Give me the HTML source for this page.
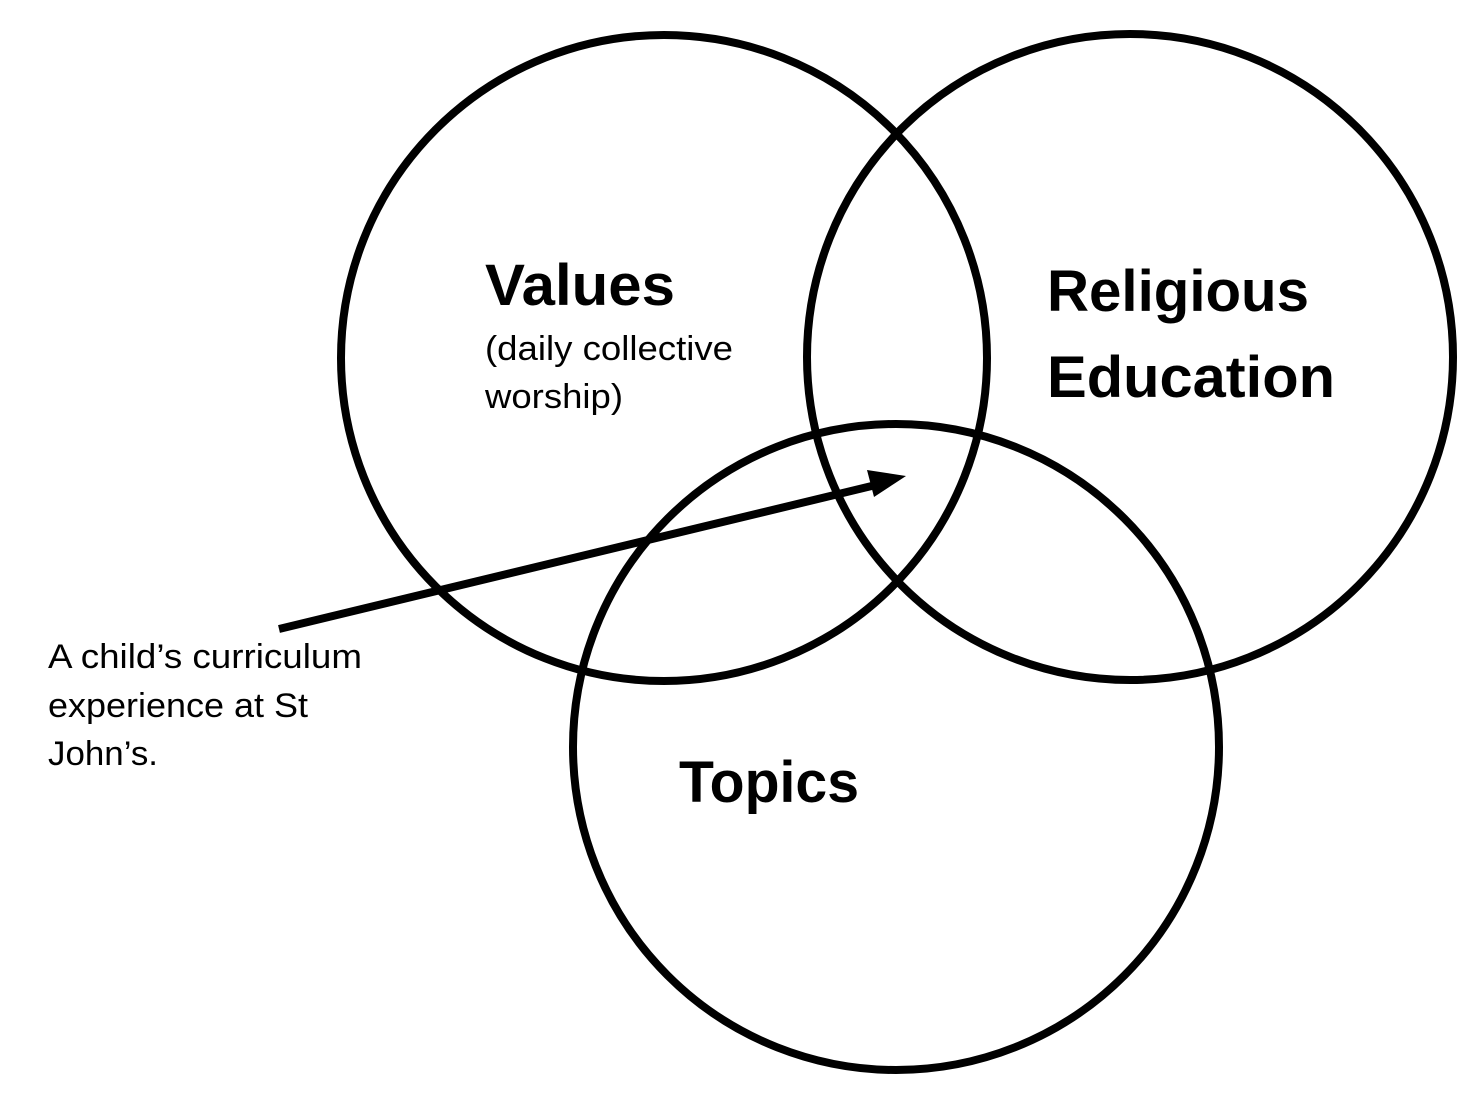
<!DOCTYPE html>
<html><head><meta charset="utf-8"><style>
html,body{margin:0;padding:0;background:#fff;}
svg{display:block;}
text{font-family:"Liberation Sans",Arial,sans-serif;fill:#000;}
.b{font-weight:bold;font-size:58px;}
.r{font-size:34px;}
</style></head><body>
<svg width="1480" height="1108" viewBox="0 0 1480 1108" xmlns="http://www.w3.org/2000/svg">
<rect width="1480" height="1108" fill="#fff"/>
<g fill="none" stroke="#000" stroke-width="8">
<circle cx="664" cy="358" r="323"/>
<circle cx="1130" cy="357" r="323"/>
<circle cx="896" cy="747" r="323"/>
<line x1="279" y1="629" x2="880" y2="484"/>
</g>
<polygon points="906,476 874,497 867,470" fill="#000"/>
<text class="b" x="485" y="305" textLength="190" lengthAdjust="spacingAndGlyphs">Values</text>
<text class="r" x="485" y="360" textLength="248" lengthAdjust="spacingAndGlyphs">(daily collective</text>
<text class="r" x="485" y="408" textLength="138" lengthAdjust="spacingAndGlyphs">worship)</text>
<text class="b" x="1047" y="311" textLength="262" lengthAdjust="spacingAndGlyphs">Religious</text>
<text class="b" x="1047" y="397" textLength="288" lengthAdjust="spacingAndGlyphs">Education</text>
<text class="b" x="679" y="802" textLength="180" lengthAdjust="spacingAndGlyphs">Topics</text>
<text class="r" x="48" y="668" textLength="314" lengthAdjust="spacingAndGlyphs">A child’s curriculum</text>
<text class="r" x="48" y="717" textLength="260" lengthAdjust="spacingAndGlyphs">experience at St</text>
<text class="r" x="48" y="765" textLength="110" lengthAdjust="spacingAndGlyphs">John’s.</text>
</svg>
</body></html>
